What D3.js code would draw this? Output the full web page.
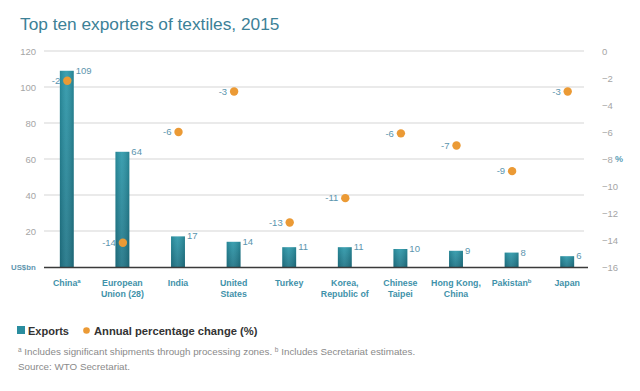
<!DOCTYPE html>
<html><head><meta charset="utf-8">
<script src="https://cdn.jsdelivr.net/npm/d3@7"></script>
<style>body{margin:0;background:#fff;}svg{display:block;font-family:"Liberation Sans",Arial,sans-serif;}</style>
</head><body>
<svg id="c" width="640" height="391"></svg>
<script>
const categories = ["China", "European Union (28)", "India", "United States", "Turkey", "Korea, Republic of", "Chinese Taipei", "Hong Kong, China", "Pakistan", "Japan"];
const categoryLines = [["China"], ["European", "Union (28)"], ["India"], ["United", "States"], ["Turkey"], ["Korea,", "Republic of"], ["Chinese", "Taipei"], ["Hong Kong,", "China"], ["Pakistan"], ["Japan"]];
const categorySup = ["a", "", "", "", "", "", "", "", "b", ""];
const exportsValues = [109, 64, 17, 14, 11, 11, 10, 9, 8, 6];
const changeValues = [-2.2, -14.2, -6, -3, -12.7, -10.9, -6.1, -7, -8.9, -3];
const changeLabels = [-2, -14, -6, -3, -13, -11, -6, -7, -9, -3];
const leftTicks = [20, 40, 60, 80, 100, 120];
const rightTicks = [0, -2, -4, -6, -8, -10, -12, -14, -16];

const svg = d3.select("#c");
const teal = "#2a8d9f", orange = "#eb9a35";

const defs = svg.append("defs");
const g = defs.append("linearGradient").attr("id", "barg").attr("x1", 0).attr("x2", 0).attr("y1", 0).attr("y2", 1);
g.append("stop").attr("offset", "0%").attr("stop-color", "#2c98aa");
g.append("stop").attr("offset", "100%").attr("stop-color", "#1f7486");
const gh = defs.append("linearGradient").attr("id", "barh").attr("x1", 0).attr("x2", 1);
gh.append("stop").attr("offset", "0%").attr("stop-color", "#000").attr("stop-opacity", 0.12);
gh.append("stop").attr("offset", "45%").attr("stop-color", "#fff").attr("stop-opacity", 0.08);
gh.append("stop").attr("offset", "100%").attr("stop-color", "#000").attr("stop-opacity", 0.15);

const x = d3.scaleBand().domain(categories).range([39, 595]).paddingInner(0.75).paddingOuter(0.375);
const yL = d3.scaleLinear().domain([0, 120]).range([267, 51]);
const yR = d3.scaleLinear().domain([-16, 0]).range([267, 51]);

// title
svg.append("text").attr("x", 20).attr("y", 30).attr("font-size", 17.3).attr("fill", "#3c8197").text("Top ten exporters of textiles, 2015");

// gridlines
svg.append("g").selectAll("line").data(leftTicks).join("line")
  .attr("x1", 44).attr("x2", 584).attr("y1", d => yL(d)).attr("y2", d => yL(d))
  .attr("stroke", "#e3e3e3").attr("stroke-width", 1.5);

// left axis
const la = svg.append("g").attr("transform", "translate(38,0)")
  .call(d3.axisLeft(yL).tickValues(leftTicks).tickSize(0).tickPadding(2));
la.select(".domain").remove();
la.selectAll("text").attr("font-size", 9.5).attr("fill", "#a5a5a5").attr("font-family", "Liberation Sans, Arial, sans-serif");
svg.append("text").attr("x", 11).attr("y", 270).attr("font-size", 7.8).attr("font-weight", "bold").attr("fill", "#5f96b0").text("US$bn");

// right axis
const ra = svg.append("g").attr("transform", "translate(600,0)")
  .call(d3.axisRight(yR).tickValues(rightTicks).tickSize(0).tickPadding(2));
ra.select(".domain").remove();
ra.selectAll("text").attr("font-size", 9.5).attr("fill", "#a5a5a5").attr("font-family", "Liberation Sans, Arial, sans-serif");
svg.append("text").attr("x", 615).attr("y", 162).attr("font-size", 9).attr("font-weight", "bold").attr("fill", "#5aa0b8").text("%");

// bars
const bars = svg.append("g");
bars.selectAll("rect.b").data(categories).join("rect").attr("class", "b")
  .attr("x", d => x(d)).attr("width", x.bandwidth())
  .attr("y", (d, i) => yL(exportsValues[i])).attr("height", (d, i) => yL(0) - yL(exportsValues[i]))
  .attr("fill", "url(#barg)");
bars.selectAll("rect.h").data(categories).join("rect").attr("class", "h")
  .attr("x", d => x(d)).attr("width", x.bandwidth())
  .attr("y", (d, i) => yL(exportsValues[i])).attr("height", (d, i) => yL(0) - yL(exportsValues[i]))
  .attr("fill", "url(#barh)");

// baseline
svg.append("line").attr("x1", 44).attr("x2", 588).attr("y1", yL(0) + 0.5).attr("y2", yL(0) + 0.5).attr("stroke", "#3a3a3a").attr("stroke-width", 1.4);

// bar value labels
svg.append("g").selectAll("text").data(categories).join("text")
  .attr("x", d => x(d) + x.bandwidth() + 2)
  .attr("y", (d, i) => yL(exportsValues[i]) + 3)
  .attr("font-size", 9.5).attr("fill", "#5b95ae")
  .text((d, i) => exportsValues[i]);

// dots
const cx = d => x(d) + x.bandwidth() / 2 + 0.5;
svg.append("g").selectAll("circle").data(categories).join("circle")
  .attr("cx", cx)
  .attr("cy", (d, i) => yR(changeValues[i]))
  .attr("r", 4.2).attr("fill", orange);
svg.append("g").selectAll("text").data(categories).join("text")
  .attr("x", d => cx(d) - 7)
  .attr("y", (d, i) => yR(changeValues[i]) + 3.3)
  .attr("text-anchor", "end").attr("font-size", 9.5).attr("fill", "#5b95ae")
  .text((d, i) => changeLabels[i]);

// category labels
const cl = svg.append("g").selectAll("text").data(categories).join("text")
  .attr("text-anchor", "middle").attr("font-size", 8.8).attr("font-weight", "bold").attr("fill", "#3f92aa");
cl.each(function(d, i) {
  const t = d3.select(this);
  categoryLines[i].forEach((ln, j) => {
    t.append("tspan").attr("x", x(d) + x.bandwidth() / 2).attr("y", 286 + j * 10.5).text(ln);
    if (j === categoryLines[i].length - 1 && categorySup[i]) {
      t.append("tspan").attr("dy", -3).attr("font-size", 6).text(categorySup[i]);
    }
  });
});

// legend
svg.append("rect").attr("x", 17).attr("y", 326).attr("width", 8).attr("height", 8).attr("fill", teal);
svg.append("text").attr("x", 28).attr("y", 334.5).attr("font-size", 11).attr("font-weight", "bold").attr("fill", "#333").text("Exports");
svg.append("circle").attr("cx", 86.5).attr("cy", 330.5).attr("r", 3.3).attr("fill", orange);
svg.append("text").attr("x", 94).attr("y", 334.5).attr("font-size", 11.2).attr("font-weight", "bold").attr("fill", "#333").text("Annual percentage change (%)");

// footnotes
const fn = svg.append("text").attr("x", 18).attr("y", 355).attr("font-size", 9.8).attr("fill", "#8a8a8a");
fn.append("tspan").attr("font-size", 6.5).attr("dy", -3).text("a");
fn.append("tspan").attr("dy", 3).text(" Includes significant shipments through processing zones.  ");
fn.append("tspan").attr("font-size", 6.5).attr("dy", -3).text("b");
fn.append("tspan").attr("dy", 3).text(" Includes Secretariat estimates.");
svg.append("text").attr("x", 18).attr("y", 370).attr("font-size", 9.8).attr("fill", "#8a8a8a").text("Source: WTO Secretariat.");
</script>
</body></html>
